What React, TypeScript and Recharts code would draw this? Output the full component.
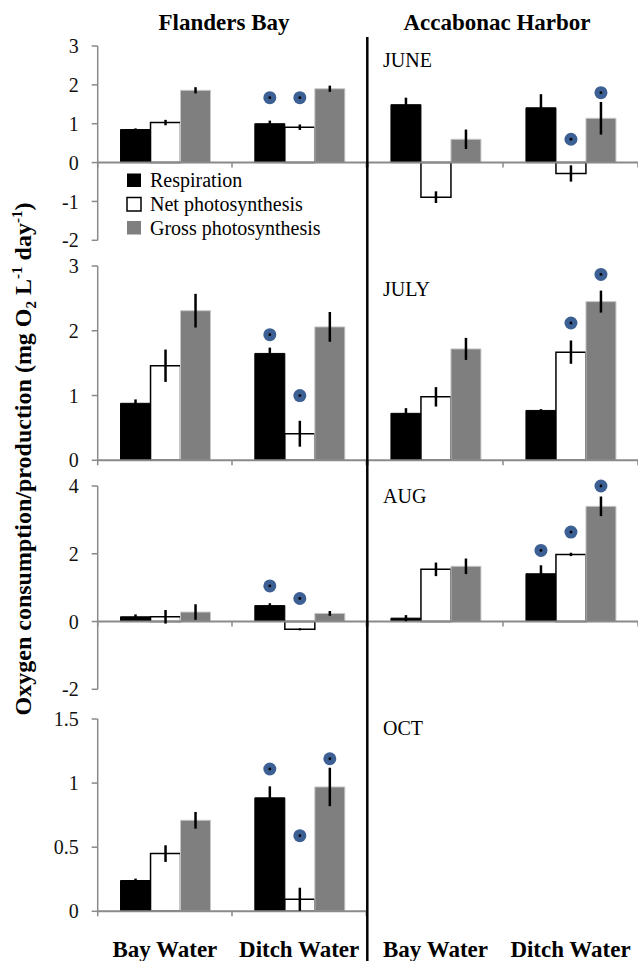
import React from "react"
import { BarChart, Bar, XAxis, YAxis, ErrorBar, ReferenceLine } from "recharts"

const regions = ["Flanders Bay", "Accabonac Harbor"]
const months = ["JUNE", "JULY", "AUG", "OCT"]
const sites = ["Bay Water", "Ditch Water"]

const yDomains = [[-2, 3], [0, 3], [-2, 4], [0, 1.5]]
const yTicks = [[-2, -1, 0, 1, 2, 3], [0, 1, 2, 3], [-2, 0, 2, 4], [0, 0.5, 1, 1.5]]

// one row per month, [Bay Water, Ditch Water]
const flandersResp = [[0.85, 1.0], [0.88, 1.65], [0.14, 0.47], [0.24, 0.885]]
const flandersRespErr = [[0.03, 0.08], [0.06, 0.09], [0.07, 0.07], [0.015, 0.09]]
const flandersNet = [[1.03, 0.91], [1.46, 0.41], [0.14, -0.23], [0.45, 0.094]]
const flandersNetErr = [[0.07, 0.07], [0.25, 0.2], [0.2, 0.03], [0.065, 0.09]]
const flandersGross = [[1.86, 1.9], [2.31, 2.06], [0.28, 0.24], [0.71, 0.97]]
const flandersGrossErr = [[0.08, 0.08], [0.26, 0.23], [0.23, 0.07], [0.065, 0.15]]
const flandersRespSig = [[null, 1.67], [null, 1.94], [null, 1.05], [null, 1.11]]
const flandersNetSig = [[null, 1.67], [null, 1.0], [null, 0.68], [null, 0.59]]
const flandersGrossSig = [[null, null], [null, null], [null, null], [null, 1.19]]

const accaResp = [[1.49, 1.41], [0.725, 0.77], [0.1, 1.41], [null, null]]
const accaRespErr = [[0.18, 0.35], [0.08, 0.02], [0.09, 0.25], [null, null]]
const accaNet = [[-0.89, -0.28], [0.98, 1.67], [1.54, 1.98], [null, null]]
const accaNetErr = [[0.15, 0.21], [0.15, 0.18], [0.2, 0.05], [null, null]]
const accaGross = [[0.6, 1.14], [1.72, 2.45], [1.63, 3.4], [null, null]]
const accaGrossErr = [[0.25, 0.42], [0.17, 0.17], [0.23, 0.29], [null, null]]
const accaRespSig = [[null, null], [null, null], [null, 2.1], [null, null]]
const accaNetSig = [[null, 0.6], [null, 2.12], [null, 2.64], [null, null]]
const accaGrossSig = [[null, 1.8], [null, 2.87], [null, 4.0], [null, null]]

const series = [
  { key: "resp", name: "Respiration", fill: "#000000", stroke: "#000000" },
  { key: "net", name: "Net photosynthesis", fill: "#ffffff", stroke: "#000000" },
  { key: "gross", name: "Gross photosynthesis", fill: "#7f7f7f", stroke: "#c8c8c8" },
]

const panelValues: any[] = [
  {
    resp: flandersResp, respErr: flandersRespErr, respSig: flandersRespSig,
    net: flandersNet, netErr: flandersNetErr, netSig: flandersNetSig,
    gross: flandersGross, grossErr: flandersGrossErr, grossSig: flandersGrossSig,
  },
  {
    resp: accaResp, respErr: accaRespErr, respSig: accaRespSig,
    net: accaNet, netErr: accaNetErr, netSig: accaNetSig,
    gross: accaGross, grossErr: accaGrossErr, grossSig: accaGrossSig,
  },
]

const FONT = '"Liberation Serif", "Times New Roman", serif'
const AXIS = "#8a8a8a"
const DOT = "#3c5f94"

// plot area top / bottom of each row, and column placement
const rowPlots = [[45.7, 240], [265.7, 460], [486, 689.3], [719, 911.3]]
const cols = [
  { left: 0, width: 366.3, axisW: 97.7 },
  { left: 368, width: 270, axisW: 0 },
]

function panelData(col: number, m: number) {
  const v = panelValues[col]
  return sites.map((name, i) => {
    const row: any = { name }
    Object.keys(v).forEach((k) => (row[k] = v[k][m][i]))
    return row
  })
}

const BoundaryTicks = (props: any) => {
  const vb = props.viewBox
  if (!vb) return null
  const xs = [0, 1, 2].map((i) => vb.x + (i * vb.width) / sites.length)
  return (
    <g>
      {xs.map((x, i) => (
        <line key={i} x1={x} x2={x} y1={vb.y} y2={vb.y + 5} stroke={AXIS} strokeWidth={1.5} />
      ))}
    </g>
  )
}

const sigShape = (key: string) => (p: any) => {
  if (!p.payload || p.payload[key] == null) return <g />
  const cx = p.x + p.width / 2
  return (
    <g>
      <circle cx={cx} cy={p.y} r={6.5} fill={DOT} />
      <circle cx={cx} cy={p.y} r={1.4} fill="#000" />
    </g>
  )
}

function Panel({ col, m }: { col: number; m: number }) {
  const [top, bottom] = rowPlots[m]
  const pad = 12
  const last = m === months.length - 1
  const xH = last ? 50 : 0
  const height = bottom - top + pad + (last ? xH : pad)
  const data = panelData(col, m)
  const hasData = data.some((d) => d.resp != null)
  const { left, width, axisW } = cols[col]

  return (
    <div style={{ position: "absolute", left, top: top - pad, width, height }}>
      <BarChart
        width={width}
        height={height}
        data={data}
        margin={{ top: pad, right: 0, bottom: last ? 0 : pad, left: 0 }}
        barCategoryGap="17%"
        barGap={0}
      >
        <XAxis
          dataKey="name"
          hide={!last}
          height={xH}
          axisLine={false}
          tickLine={false}
          tickSize={0}
          tickMargin={29}
          interval={0}
          tick={{ fill: "#000", fontSize: 23, fontWeight: "bold", fontFamily: FONT }}
        />
        <XAxis xAxisId="sig" dataKey="name" hide />
        <YAxis
          hide={col === 1}
          width={axisW}
          type="number"
          domain={yDomains[m]}
          ticks={yTicks[m]}
          axisLine={{ stroke: AXIS, strokeWidth: 1.5 }}
          tickLine={{ stroke: AXIS, strokeWidth: 1.5 }}
          tickSize={6}
          tickMargin={13}
          tick={{ fill: "#111", fontSize: 20, fontFamily: FONT }}
        />
        <ReferenceLine y={0} stroke={AXIS} strokeWidth={2} label={BoundaryTicks} />
        {series.map((s) => (
          <Bar
            key={s.key}
            dataKey={s.key}
            name={s.name}
            fill={s.fill}
            stroke={s.stroke}
            strokeWidth={s.key === "net" ? 1.5 : 1}
            isAnimationActive={false}
          >
            {hasData && <ErrorBar dataKey={s.key + "Err"} width={0} stroke="#000" strokeWidth={2.5} />}
          </Bar>
        ))}
        {series.map((s) => (
          <Bar
            key={s.key + "Sig"}
            xAxisId="sig"
            dataKey={s.key + "Sig"}
            isAnimationActive={false}
            shape={sigShape(s.key + "Sig")}
          />
        ))}
      </BarChart>
    </div>
  )
}

export default function App() {
  const monthBaselines = [67.3, 295.7, 503.3, 735]
  const legendY = [173.5, 197.5, 221]

  return (
    <div style={{ position: "absolute", left: 0, top: 0, width: 638, height: 961, background: "#fff" }}>
      {months.map((_, m) => (
        <React.Fragment key={m}>
          <Panel col={0} m={m} />
          <Panel col={1} m={m} />
        </React.Fragment>
      ))}

      <svg
        width={638}
        height={961}
        style={{ position: "absolute", left: 0, top: 0, pointerEvents: "none", fontFamily: FONT }}
      >
        <text x={224} y={30} textAnchor="middle" fontSize={23} fontWeight="bold">{regions[0]}</text>
        <text x={497} y={30} textAnchor="middle" fontSize={23} fontWeight="bold">{regions[1]}</text>

        <line x1={367.3} x2={367.3} y1={37} y2={961} stroke="#000" strokeWidth={2.5} />

        <text transform="translate(30.5,459) rotate(-90)" textAnchor="middle" fontSize={24} fontWeight="bold">
          Oxygen consumption/production (mg O
          <tspan fontSize={15} dy={5}>2</tspan>
          <tspan dy={-5}> L</tspan>
          <tspan fontSize={15} dy={-9}>-1</tspan>
          <tspan dy={9}> day</tspan>
          <tspan fontSize={15} dy={-9}>-1</tspan>
          <tspan dy={9}>)</tspan>
        </text>

        {months.map((mo, m) => (
          <text key={mo} x={383} y={monthBaselines[m]} fontSize={20}>{mo}</text>
        ))}

        {series.map((s, i) => (
          <g key={s.key}>
            <rect
              x={127}
              y={legendY[i]}
              width={14}
              height={13.5}
              fill={s.fill}
              stroke="#000"
              strokeWidth={s.key === "net" ? 1.5 : 0}
            />
            <text x={150} y={legendY[i] + 13.5} fontSize={20}>{s.name}</text>
          </g>
        ))}
      </svg>
    </div>
  )
}
